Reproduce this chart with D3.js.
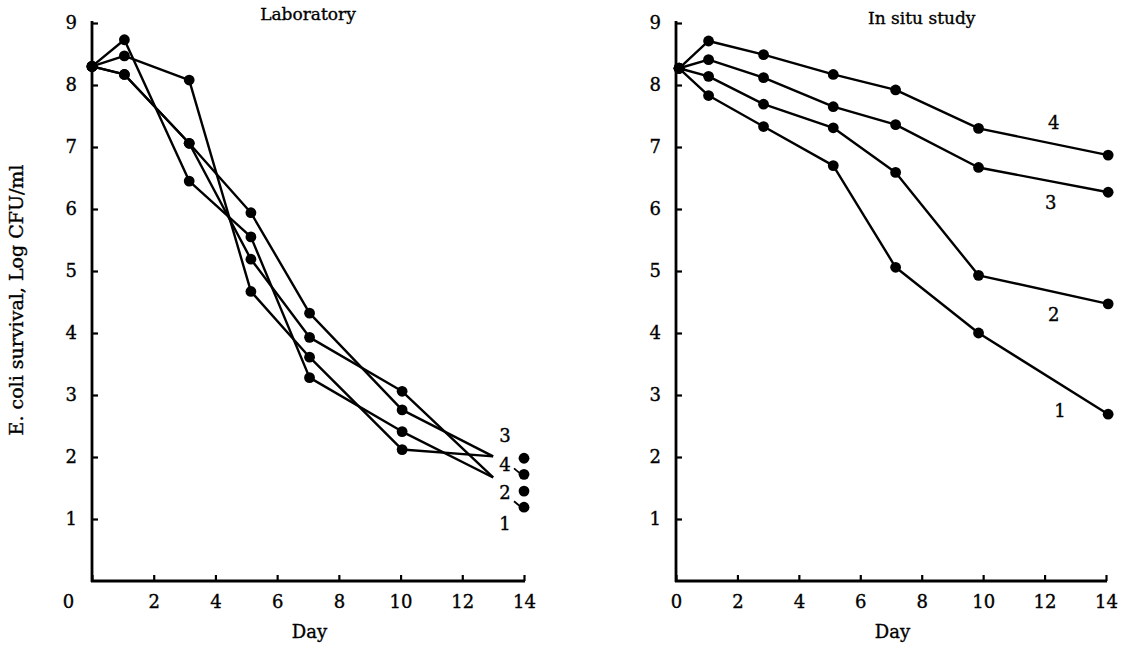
<!DOCTYPE html>
<html>
<head>
<meta charset="utf-8">
<script src="https://cdnjs.cloudflare.com/ajax/libs/d3/7.8.5/d3.min.js"></script>
<style>
  body { margin: 0; background: #fff; }
  svg text { font-family: "DejaVu Serif", "Liberation Serif", serif; fill: #000; stroke: #000; stroke-width: 0.35px; }
</style>
</head>
<body>
<svg id="chart"></svg>
<script>
// Size of chart svg
var width = 1125;
var height = 645;

// ---- Laboratory panel ----
var lab_days = [0, 1.05, 3.15, 5.15, 7.05, 10.05, 13.0];
var lab_a = [8.3, 8.73, 6.45, 5.55, 3.28, 2.41, 1.67];
var lab_b = [8.3, 8.47, 8.08, 4.67, 3.61, 2.12, 2.01];
var lab_c = [8.3, 8.17, 7.06, 5.94, 4.32, 2.76, 2.01];
var lab_d = [8.3, 8.17, 7.06, 5.19, 3.93, 3.06, 1.67];
// separate day 14 points and their numbers
var lab_end_day = 14;
var lab_end_vals = [1.98, 1.72, 1.45, 1.19];
var lab_end_names = ["3", "4", "2", "1"];
var lab_end_name_vals = [2.35, 1.88, 1.43, 0.93];
var lab_end_name_day = 13.38;

// ---- In situ panel ----
var situ_days = [0.1, 1.06, 2.85, 5.12, 7.15, 9.85, 14.07];
var situ_1 = [8.27, 7.83, 7.33, 6.70, 5.06, 4.00, 2.69];
var situ_2 = [8.27, 8.14, 7.69, 7.31, 6.59, 4.93, 4.47];
var situ_3 = [8.27, 8.41, 8.12, 7.65, 7.36, 6.67, 6.27];
var situ_4 = [8.27, 8.71, 8.49, 8.17, 7.92, 7.30, 6.87];
var situ_names = ["1", "2", "3", "4"];
var situ_name_days = [12.5, 12.3, 12.2, 12.3];
var situ_name_vals = [2.74, 4.3, 6.1, 7.4];

var x_ticks = [0, 2, 4, 6, 8, 10, 12, 14];
var y_ticks = [1, 2, 3, 4, 5, 6, 7, 8, 9];

var svg = d3.select('#chart')
    .attr("width", width)
    .attr("height", height);

var y = d3.scaleLinear().domain([0, 9]).range([581, 23]);
var x_lab = d3.scaleLinear().domain([0, 14]).range([92, 524]);
var x_situ = d3.scaleLinear().domain([0, 14]).range([676, 1106]);

var drawPanel = function(x, title, title_day, title_y, zero_shift){
    // y axis, ticks point inward
    var gy = svg.append("g")
        .attr("transform", "translate(" + x(0) + ",0)")
        .call(d3.axisLeft(y).tickValues(y_ticks).tickSize(-6).tickSizeOuter(0).tickPadding(15));
    // x axis
    var gx = svg.append("g")
        .attr("transform", "translate(0," + y(0) + ")")
        .call(d3.axisBottom(x).tickValues(x_ticks).tickSize(-6).tickSizeOuter(0).tickPadding(12));
    [gx, gy].forEach(function(g){
        g.attr("font-size", null).attr("font-family", null);
        g.select(".domain").attr("stroke-width", 2.8);
        g.selectAll(".tick line").attr("stroke-width", 2.2);
        g.selectAll("text").style("font-size", "18px").attr("fill", "#000");
    });
    gy.select(".domain").attr("d", "M0," + (y(0) + 1) + "V" + (y(9) - 2));
    gx.select(".domain").attr("d", "M" + (x(0) - 1) + ",0H" + (x(14) + 1));
    gy.selectAll(".tick text").attr("dy", "0.3em");
    gx.selectAll(".tick text").attr("dy", "0.85em");
    gx.selectAll(".tick").filter(function(d){ return d === 0; })
        .select("text").attr("dx", zero_shift);

    svg.append("text")
        .attr("x", x(title_day))
        .attr("y", title_y)
        .attr("text-anchor", "middle")
        .style("font-size", "17px")
        .text(title);
    svg.append("text")
        .attr("x", x(7.05))
        .attr("y", 638)
        .attr("text-anchor", "middle")
        .style("font-size", "18px")
        .text("Day");
};

var line = function(x, days){
    return d3.line()
        .x(function(d, i){ return x(days[i]); })
        .y(function(d){ return y(d); });
};

var drawSeries = function(x, days, vals, dot_count){
    svg.append("path")
        .datum(vals)
        .attr("d", line(x, days))
        .attr("fill", "none")
        .attr("stroke", "#000")
        .attr("stroke-width", 2.4)
        .attr("stroke-linejoin", "round");
    svg.selectAll(null)
        .data(vals.slice(0, dot_count))
        .enter().append("circle")
        .attr("cx", function(d, i){ return x(days[i]); })
        .attr("cy", function(d){ return y(d); })
        .attr("r", 5.4)
        .attr("fill", "#000");
};

// Laboratory
drawPanel(x_lab, "Laboratory", 7.0, 20, -24);
[lab_a, lab_b, lab_c, lab_d].forEach(function(s){
    drawSeries(x_lab, lab_days, s, 6);
});
svg.selectAll(null)
    .data(lab_end_vals)
    .enter().append("circle")
    .attr("cx", x_lab(lab_end_day))
    .attr("cy", function(d){ return y(d); })
    .attr("r", 5.4)
    .attr("fill", "#000");
svg.selectAll(null)
    .data(lab_end_names)
    .enter().append("text")
    .attr("x", x_lab(lab_end_name_day))
    .attr("y", function(d, i){ return y(lab_end_name_vals[i]); })
    .attr("dy", "0.35em")
    .attr("text-anchor", "middle")
    .style("font-size", "18px")
    .text(function(d){ return d; });
// little leaders to the 2nd and 4th end points
[1, 3].forEach(function(i){
    svg.append("line")
        .attr("x1", x_lab(lab_end_day) - 10)
        .attr("y1", y(lab_end_vals[i]) - 6)
        .attr("x2", x_lab(lab_end_day) - 4)
        .attr("y2", y(lab_end_vals[i]) - 1)
        .attr("stroke", "#000")
        .attr("stroke-width", 1.8);
});

// In situ study
drawPanel(x_situ, "In situ study", 8.0, 24, 0);
[situ_1, situ_2, situ_3, situ_4].forEach(function(s){
    drawSeries(x_situ, situ_days, s, 7);
});
svg.selectAll(null)
    .data(situ_names)
    .enter().append("text")
    .attr("x", function(d, i){ return x_situ(situ_name_days[i]); })
    .attr("y", function(d, i){ return y(situ_name_vals[i]); })
    .attr("dy", "0.35em")
    .attr("text-anchor", "middle")
    .style("font-size", "18px")
    .text(function(d){ return d; });

// shared y title
svg.append("text")
    .attr("transform", "translate(23,300) rotate(-90)")
    .attr("text-anchor", "middle")
    .style("font-size", "19px")
    .text("E. coli survival, Log CFU/ml");
</script>
</body>
</html>
